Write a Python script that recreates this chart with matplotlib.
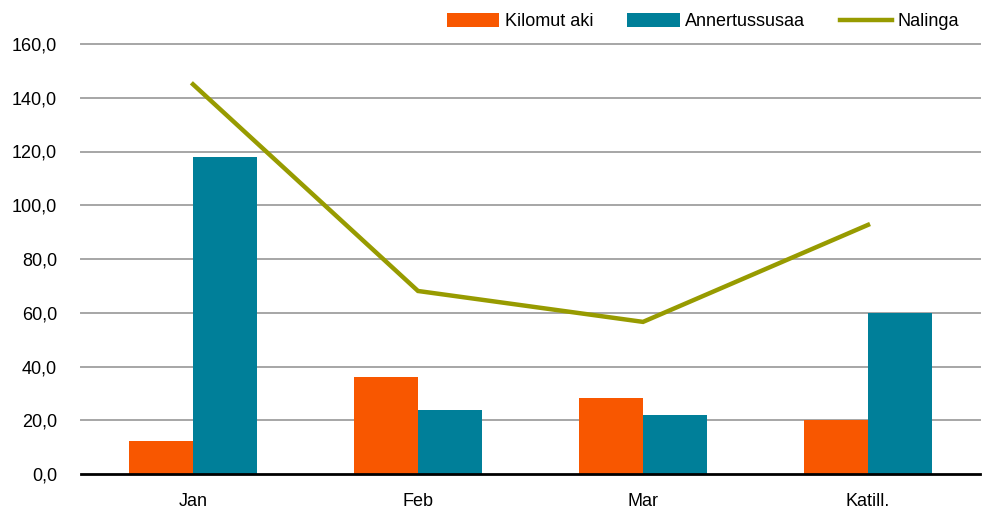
import numpy as np
import matplotlib
matplotlib.use("Agg")
import matplotlib.pyplot as plt

plt.rcParams['font.family'] = ['Liberation Sans', 'DejaVu Sans']

# data
kategoriat = ['Jan', 'Feb', 'Mar', 'Katill.']
kilomut_aki = [12.3, 36.0, 28.4, 20.1]
annertussusaa = [118.0, 23.7, 21.8, 60.0]
nalinga = [145.0, 68.1, 56.6, 92.7]
y_ticks = [0, 20, 40, 60, 80, 100, 120, 140, 160]

ORANSSI = '#F85700'
TURKOOSI = '#007F99'
OLIIVI = '#979B00'

fig = plt.figure(figsize=(9.87, 5.12), dpi=100)
ax = fig.add_axes([80.5 / 987, 38 / 512, 900 / 987, 430 / 512])

x = np.arange(len(kategoriat))
w = 0.284
b1 = ax.bar(x - w / 2, kilomut_aki, width=w, color=ORANSSI, label='Kilomut aki', zorder=3)
b2 = ax.bar(x + w / 2, annertussusaa, width=w, color=TURKOOSI, label='Annertussusaa', zorder=3)
l1, = ax.plot(x, nalinga, color=OLIIVI, lw=3.2, label='Nalinga', zorder=4, solid_joinstyle='miter')

ax.set_xlim(-0.5, len(kategoriat) - 0.5)
ax.set_ylim(0, 160)
ax.set_yticks(y_ticks)
ax.set_yticklabels([f'{v:.1f}'.replace('.', ',') for v in y_ticks])
ax.set_xticks(x)
ax.set_xticklabels(kategoriat)

# gridlines
for v in y_ticks[1:]:
    ax.axhline(v, color='#A6A6A6', lw=1.4, zorder=1, clip_on=False)

for s in ['top', 'right', 'left']:
    ax.spines[s].set_visible(False)
ax.spines['bottom'].set_linewidth(2)
ax.spines['bottom'].set_color('black')
ax.spines['bottom'].set_zorder(5)

ax.tick_params(axis='both', length=0, labelsize=13, colors='black')
ax.tick_params(axis='y', pad=17)
ax.tick_params(axis='x', pad=14)

fig.legend([b1, b2, l1], ['Kilomut aki', 'Annertussusaa', 'Nalinga'],
           loc='upper right', bbox_to_anchor=(966 / 987, 1 - 6 / 512), ncol=3,
           frameon=False, fontsize=13, handlelength=2.9, handleheight=0.8,
           handletextpad=0.3, columnspacing=1.9, borderaxespad=0)

fig.savefig('out.png', dpi=100)
